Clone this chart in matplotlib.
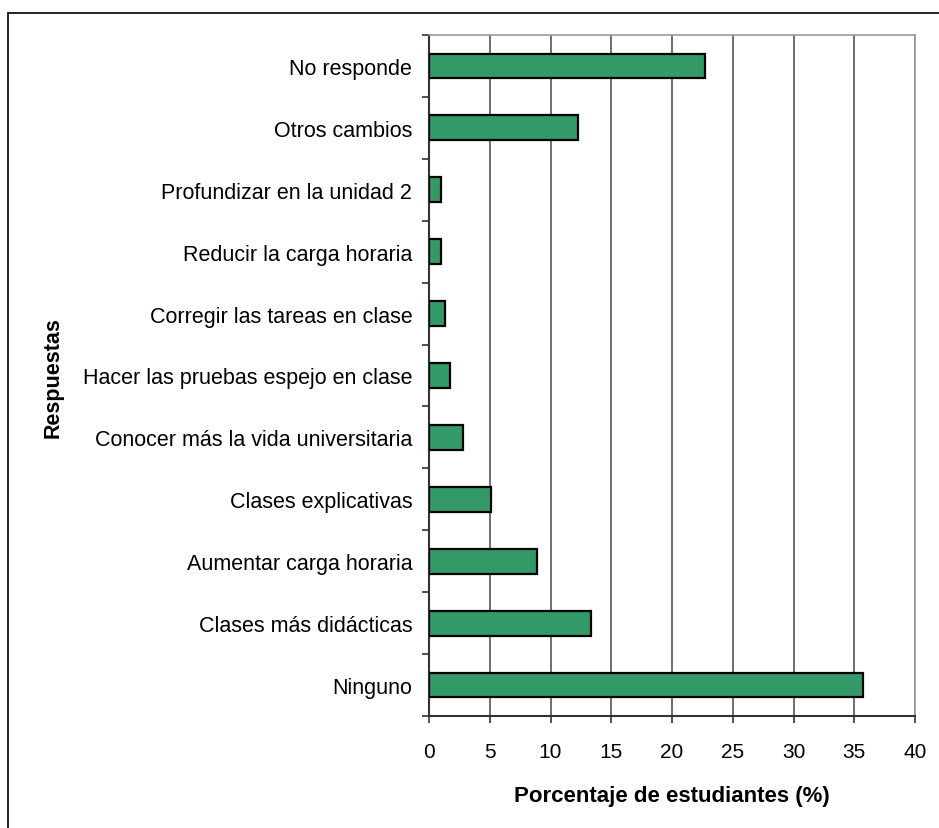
import numpy as np
import matplotlib
matplotlib.use("Agg")
import matplotlib.pyplot as plt
from matplotlib.patches import Rectangle

plt.rcParams['font.family'] = ['Liberation Sans', 'DejaVu Sans']

# answers, bottom to top as they appear on the chart
respuestas = [
    "Ninguno",
    "Clases más didácticas",
    "Aumentar carga horaria",
    "Clases explicativas",
    "Conocer más la vida universitaria",
    "Hacer las pruebas espejo en clase",
    "Corregir las tareas en clase",
    "Reducir la carga horaria",
    "Profundizar en la unidad 2",
    "Otros cambios",
    "No responde",
]
porcentajes = [35.7, 13.3, 8.9, 5.1, 2.8, 1.7, 1.35, 1.0, 1.0, 12.3, 22.7]
x_ticks = [0, 5, 10, 15, 20, 25, 30, 35, 40]

W, H = 939, 829
fig = plt.figure(figsize=(W / 100, H / 100), dpi=100)

# outer chart frame (runs off the right and bottom edges)
fig.patches.append(Rectangle((7.5 / W, -0.1), 1.2, (H - 14) / H + 0.1,
                             transform=fig.transFigure, fill=False,
                             edgecolor='black', linewidth=1.2))

left, right, top, bottom = 429, 915, 36, 717
ax = fig.add_axes([left / W, 1 - bottom / H, (right - left) / W, (bottom - top) / H])

y = np.arange(len(respuestas))
ax.barh(y, porcentajes, height=0.4, color='#339966', edgecolor='black',
        linewidth=1.6, zorder=3)

ax.set_xlim(0, 40)
ax.set_ylim(-0.5, len(respuestas) - 0.5)
ax.set_xticks(x_ticks)
ax.set_xticklabels([str(v) for v in x_ticks], fontsize=15)
ax.xaxis.grid(True, color='#555555', linewidth=1.2, zorder=0)

ax.set_yticks(y)
ax.set_yticklabels(respuestas, fontsize=15.5)
ax.set_yticks(np.arange(-0.5, len(respuestas)), minor=True)
ax.tick_params(axis='y', which='major', length=0, pad=12)
ax.tick_params(axis='y', which='minor', length=5, width=1.2, color='#333333')
ax.tick_params(axis='x', which='major', length=5, width=1.2, color='#333333', pad=14)

for side in ('left', 'bottom'):
    ax.spines[side].set_color('#333333')
    ax.spines[side].set_linewidth(1.5)
for side in ('top', 'right'):
    ax.spines[side].set_color('#999999')
    ax.spines[side].set_linewidth(1.2)

ax.set_xlabel("Porcentaje de estudiantes (%)", fontsize=16, fontweight='bold')
ax.xaxis.set_label_coords(0.5, 1 - 797 / H, transform=fig.transFigure)
ax.xaxis.set_label_coords((left + right) / 2 / W + 0.0, 1 - 797 / H, transform=fig.transFigure)
ax.xaxis.label.set_verticalalignment('center')
ax.set_ylabel("Respuestas", fontsize=15.5, fontweight='bold')
ax.yaxis.label.set_verticalalignment('center')
ax.yaxis.set_label_coords(53 / W, 1 - 378 / H, transform=fig.transFigure)

fig.savefig("out.png", dpi=100)
